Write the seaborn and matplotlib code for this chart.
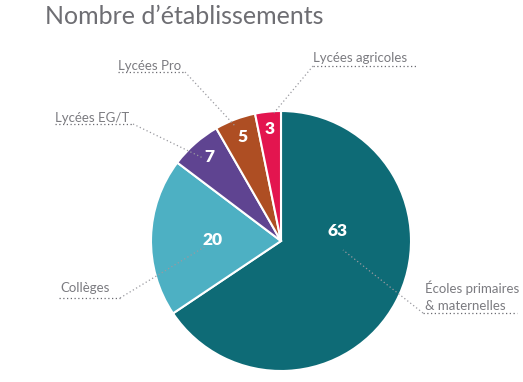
import matplotlib
matplotlib.use("Agg")
import matplotlib.pyplot as plt
import seaborn as sns

# Données
categories = ["Écoles primaires\n& maternelles", "Collèges", "Lycées EG/T", "Lycées Pro", "Lycées agricoles"]
valeurs = [63, 20, 7, 5, 3]
# part de chaque secteur telle que dessinée sur l'image (en %)
parts = [65.6, 19.7, 6.4, 5.1, 3.2]
couleurs = ["#0E6B76", "#4DB0C3", "#5F4491", "#AE4E23", "#E3154F"]

sns.set_style("white")
plt.rcParams["font.family"] = ["Lato", "DejaVu Sans"]
palette = sns.color_palette(couleurs)

fig = plt.figure(figsize=(5.23, 3.82), dpi=100)
ax = fig.add_axes([0, 0, 1, 1])

# axe y inversé : startangle=-90 + sens trigo = départ en haut, sens horaire
wedges, _ = ax.pie(parts, colors=palette, center=(281, 241), radius=130,
                   startangle=-90, counterclock=True,
                   wedgeprops=dict(edgecolor="white", linewidth=1.5))
ax.set_xlim(0, 523)
ax.set_ylim(382, 0)
ax.set_aspect("equal")
ax.axis("off")

# position des chiffres, des libellés et des traits de rappel (pixels)
pos_val = [(337, 231), (213, 240), (209, 157), (242, 137), (270, 129)]
pos_lab = [(425, 296), (60, 288), (55, 118), (118, 66), (313, 58)]
soulign = [(423, 517, 313), (59, 120, 298), (55, 133, 124), (118, 185, 72), (313, 417, 66)]
rappel = [((423, 313), (343, 250)), ((120, 298), (206, 246)), ((133, 124), (203, 158)),
          ((185, 72), (236, 127)), ((313, 66), (273, 114))]

for i, v in enumerate(valeurs):
    ax.text(pos_val[i][0], pos_val[i][1], str(v), color="white", fontsize=12.5,
            fontweight="heavy", ha="center", va="center")
    ax.text(pos_lab[i][0], pos_lab[i][1], categories[i], color="#7b7b80", fontsize=9.5,
            ha="left", va="center", linespacing=1.5)
    x0, x1, y = soulign[i]
    ax.plot([x0, x1], [y, y], color="#6a6a70", linestyle=(0, (1, 2)), linewidth=0.9)
    (a, b), (c, d) = rappel[i]
    ax.plot([a, c], [b, d], color="#9a9aa0", linestyle=(0, (1, 2)), linewidth=0.9)

ax.text(45, 17, "Nombre d’établissements", color="#6e6e73", fontsize=18,
        ha="left", va="center")

fig.savefig("out.png", dpi=100)
